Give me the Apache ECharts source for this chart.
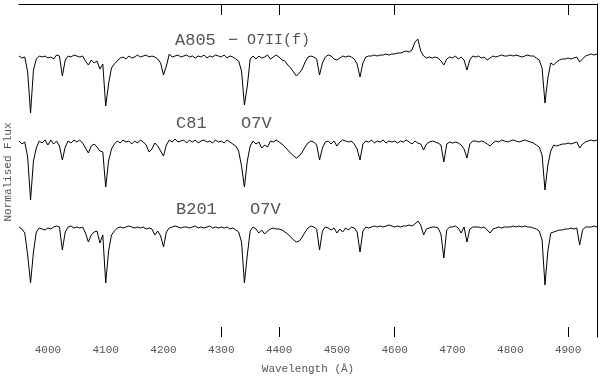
<!DOCTYPE html>
<html><head><meta charset="utf-8">
<script src="https://cdn.jsdelivr.net/npm/echarts@6/dist/echarts.min.js"></script>
<style>html,body{margin:0;padding:0;background:#fff}#c{width:600px;height:380px}</style>
</head><body><div id="c"></div>
<script>
// Wavelength sampling of the spectra (Angstrom)
const lambdaStart = 3950, lambdaStep = 5;
const xMin = 3950, xMax = 4950;
const tickLabelValues = [4000,4100,4200,4300,4400,4500,4600,4700,4800,4900];
const tickMarkValues = [4300,4400,4600,4900];

const a805 = [
1.00,0.98,0.99,0.84,0.43,0.86,0.97,1.00,0.99,1.00,
0.98,0.99,0.97,1.01,1.00,0.80,0.96,1.00,0.99,1.01,
1.00,0.99,1.00,0.95,0.91,0.96,0.93,0.95,0.87,0.92,
0.50,0.72,0.88,0.92,0.95,0.98,0.99,0.97,1.00,0.98,
0.99,1.01,0.99,1.00,1.01,0.99,1.00,0.99,0.97,0.93,
0.81,0.90,1.02,0.99,1.00,1.01,0.99,1.00,1.01,0.99,
1.00,0.98,1.00,0.99,1.01,0.98,1.00,0.99,1.01,1.00,
0.99,1.01,0.98,1.00,0.99,0.97,0.95,0.85,0.51,0.70,
0.97,1.00,0.97,1.00,0.98,0.99,1.01,0.97,0.99,1.01,
0.99,0.96,0.95,0.91,0.88,0.84,0.80,0.83,0.87,0.94,
0.99,1.00,0.99,0.97,0.81,0.93,0.99,1.01,1.00,0.97,
0.96,0.98,1.00,0.99,1.00,0.99,0.97,0.92,0.79,0.93,
0.99,1.00,1.00,1.01,1.00,1.01,1.01,1.02,1.01,1.02,
1.02,1.03,1.03,1.04,1.05,1.04,1.06,1.14,1.17,1.05,
1.00,0.98,0.99,0.98,0.99,0.98,0.95,0.91,0.97,0.99,
0.98,1.00,0.97,0.99,0.96,0.86,0.96,1.00,0.99,1.00,
0.98,0.99,0.96,0.98,1.00,0.99,1.00,1.01,1.00,1.00,
1.01,1.00,1.01,1.00,0.99,1.00,1.01,1.00,1.00,0.98,
0.96,0.88,0.53,0.78,0.93,0.91,0.94,0.96,0.97,0.97,
0.98,0.97,0.98,0.99,0.94,0.97,1.00,1.01,1.02,1.01,1.02
];
const c81 = [
1.00,0.97,0.99,0.84,0.41,0.80,0.93,1.00,0.98,1.01,
0.96,1.01,0.97,1.00,0.95,0.81,0.94,1.00,0.98,1.01,
0.99,1.01,0.98,0.93,0.88,0.95,0.97,0.94,0.90,0.89,
0.54,0.80,0.92,0.97,1.00,0.98,1.01,0.99,1.00,0.97,
1.00,0.98,1.01,0.99,0.96,0.89,0.92,0.98,0.95,0.90,
0.85,0.96,1.01,0.99,1.02,0.99,1.00,1.01,0.98,1.01,
0.99,1.01,0.98,1.00,1.01,0.99,1.00,0.98,1.01,0.99,
1.00,0.98,1.01,0.99,0.97,0.95,0.90,0.75,0.54,0.80,
0.95,1.00,0.97,0.99,0.93,0.96,0.94,1.00,0.99,1.01,
0.99,0.97,0.94,0.91,0.88,0.85,0.83,0.85,0.89,0.94,
0.98,1.00,0.99,0.96,0.81,0.93,0.99,1.00,0.97,1.00,
0.95,0.99,1.01,1.00,0.99,1.00,0.97,0.92,0.81,0.97,
1.00,0.99,1.01,0.98,1.00,0.99,1.01,0.98,1.00,0.99,
1.00,0.98,1.00,0.99,1.01,0.99,0.97,1.00,0.98,0.97,
0.91,0.97,0.99,1.00,0.99,0.98,0.96,0.79,0.97,0.99,
0.98,0.99,0.98,0.96,0.92,0.83,0.97,1.00,1.00,0.99,
1.00,0.99,0.97,0.95,0.98,1.00,0.99,1.01,1.00,0.99,
1.00,1.01,1.00,0.99,1.00,1.01,1.00,0.99,0.98,0.96,
0.94,0.86,0.51,0.76,0.90,0.96,0.95,0.96,0.97,0.97,
0.98,0.97,0.98,0.99,0.93,0.97,0.99,1.00,1.01,1.00,1.01
];
const b201 = [
1.00,0.98,0.94,0.72,0.44,0.75,0.95,0.99,0.98,0.97,
0.99,0.98,1.00,1.01,1.00,0.77,0.95,1.00,1.01,0.99,
1.00,0.99,1.00,0.94,0.85,0.92,0.95,0.96,0.84,0.92,
0.44,0.76,0.92,0.96,0.99,1.00,0.99,1.00,1.01,1.00,
0.99,1.00,0.99,1.00,0.98,0.99,0.98,0.92,0.96,0.91,
0.80,0.95,0.99,1.00,1.01,1.00,0.99,1.00,1.00,0.99,
1.00,1.01,0.99,1.00,0.99,1.00,1.01,0.99,1.00,0.99,
1.00,0.99,1.00,0.98,0.99,0.97,0.95,0.85,0.44,0.72,
0.96,1.00,0.98,0.94,0.97,0.93,0.96,0.98,0.99,0.98,
0.98,0.97,0.95,0.93,0.90,0.87,0.85,0.86,0.90,0.95,
0.99,1.01,1.00,0.98,0.77,0.96,1.00,0.99,0.97,0.99,
0.94,0.98,0.95,0.99,0.97,1.00,0.99,0.95,0.75,0.96,
1.00,0.99,1.00,1.01,1.00,1.01,1.00,1.01,1.02,1.01,
1.00,1.01,1.00,1.01,1.01,1.02,1.01,1.03,1.06,1.02,
0.92,0.98,0.99,1.00,1.00,0.99,0.93,0.69,0.97,1.00,
1.00,1.01,0.99,0.94,1.00,0.85,0.98,1.00,1.00,1.00,
0.99,1.00,0.97,0.94,0.98,0.99,1.00,0.99,1.00,1.00,
1.00,1.01,1.00,1.01,1.00,1.01,1.00,1.00,0.99,0.98,
0.96,0.87,0.42,0.76,0.94,0.95,0.96,0.97,0.97,0.98,
0.98,0.99,0.98,0.99,0.82,0.97,1.00,1.00,1.00,1.01,1.00
];

const spectra = [
  {name: 'A805', flux: a805},
  {name: 'C81',  flux: c81},
  {name: 'B201', flux: b201}
];
const labels = [
  {star: 'A805', dash: '−', type: 'O7II(f)'},
  {star: 'C81',  dash: '',  type: 'O7V'},
  {star: 'B201', dash: '',  type: 'O7V'}
];

function pairs(flux){ return flux.map((f,i)=>[lambdaStart + i*lambdaStep, f]); }

const FONT = '"Liberation Mono", "DejaVu Sans Mono", monospace';
const TXT = '#555';
const specTops = [26, 111, 197];
const labelY = [40, 123, 209];
const starX = [175, 176, 176];
const dashX = 228;
const typeX = [247, 241, 250];
const typeSize = [15, 17, 17];

const grids = [{left:19, right:3, top:4, bottom:35}];
specTops.forEach(t => grids.push({left:19, right:3, top:t, height:100}));

const xAxes = [
  {type:'value', gridIndex:0, position:'bottom', min:xMin, max:xMax,
   axisLine:{show:false}, splitLine:{show:false},
   axisTick:{show:true, inside:true, length:10, customValues:tickMarkValues, lineStyle:{color:'#000', width:1}},
   axisLabel:{show:true, customValues:tickLabelValues, margin:8, fontFamily:FONT, fontSize:11, color:TXT,
              formatter: v => String(v)},
   name:'Wavelength (Å)', nameLocation:'middle', nameGap:27,
   nameTextStyle:{fontFamily:FONT, fontSize:11, color:TXT}},
  {type:'value', gridIndex:0, position:'top', min:xMin, max:xMax,
   axisLine:{show:true, lineStyle:{color:'#000', width:1}}, splitLine:{show:false},
   axisTick:{show:true, inside:true, length:11, customValues:tickMarkValues, lineStyle:{color:'#000', width:1}},
   axisLabel:{show:false}}
];
const yAxes = [
  {type:'value', gridIndex:0, position:'right', min:0, max:1,
   axisLine:{show:true, lineStyle:{color:'#000', width:1}}, axisTick:{show:false},
   axisLabel:{show:false}, splitLine:{show:false}}
];
const series = [];
spectra.forEach((s, k) => {
  xAxes.push({type:'value', gridIndex:k+1, min:xMin, max:xMax, show:false});
  yAxes.push({type:'value', gridIndex:k+1, min:0.3, max:1.3, show:false});
  series.push({type:'line', name:s.name, xAxisIndex:k+2, yAxisIndex:k+1,
    data:pairs(s.flux), showSymbol:false, symbol:'none',
    lineStyle:{color:'#000', width:1}, silent:true});
});

const graphic = [
  {type:'text', x:8, y:172, rotation:Math.PI/2,
   style:{text:'Normalised Flux', font:'11px ' + FONT, fill:TXT, align:'center', verticalAlign:'middle'}}
];
labels.forEach((l, k) => {
  graphic.push({type:'text', x:starX[k], y:labelY[k],
    style:{text:l.star, font:'17px ' + FONT, fill:TXT, align:'left', verticalAlign:'middle'}});
  if (l.dash) graphic.push({type:'text', x:dashX, y:labelY[k],
    style:{text:l.dash, font:'17px ' + FONT, fill:TXT, align:'left', verticalAlign:'middle'}});
  graphic.push({type:'text', x:typeX[k], y:labelY[k],
    style:{text:l.type, font:typeSize[k] + 'px ' + FONT, fill:TXT, align:'left', verticalAlign:'middle'}});
});

const chart = echarts.init(document.getElementById('c'), null, {renderer:'canvas'});
chart.setOption({
  animation:false,
  backgroundColor:'#fff',
  grid:grids, xAxis:xAxes, yAxis:yAxes, series:series, graphic:graphic
});
</script></body></html>
